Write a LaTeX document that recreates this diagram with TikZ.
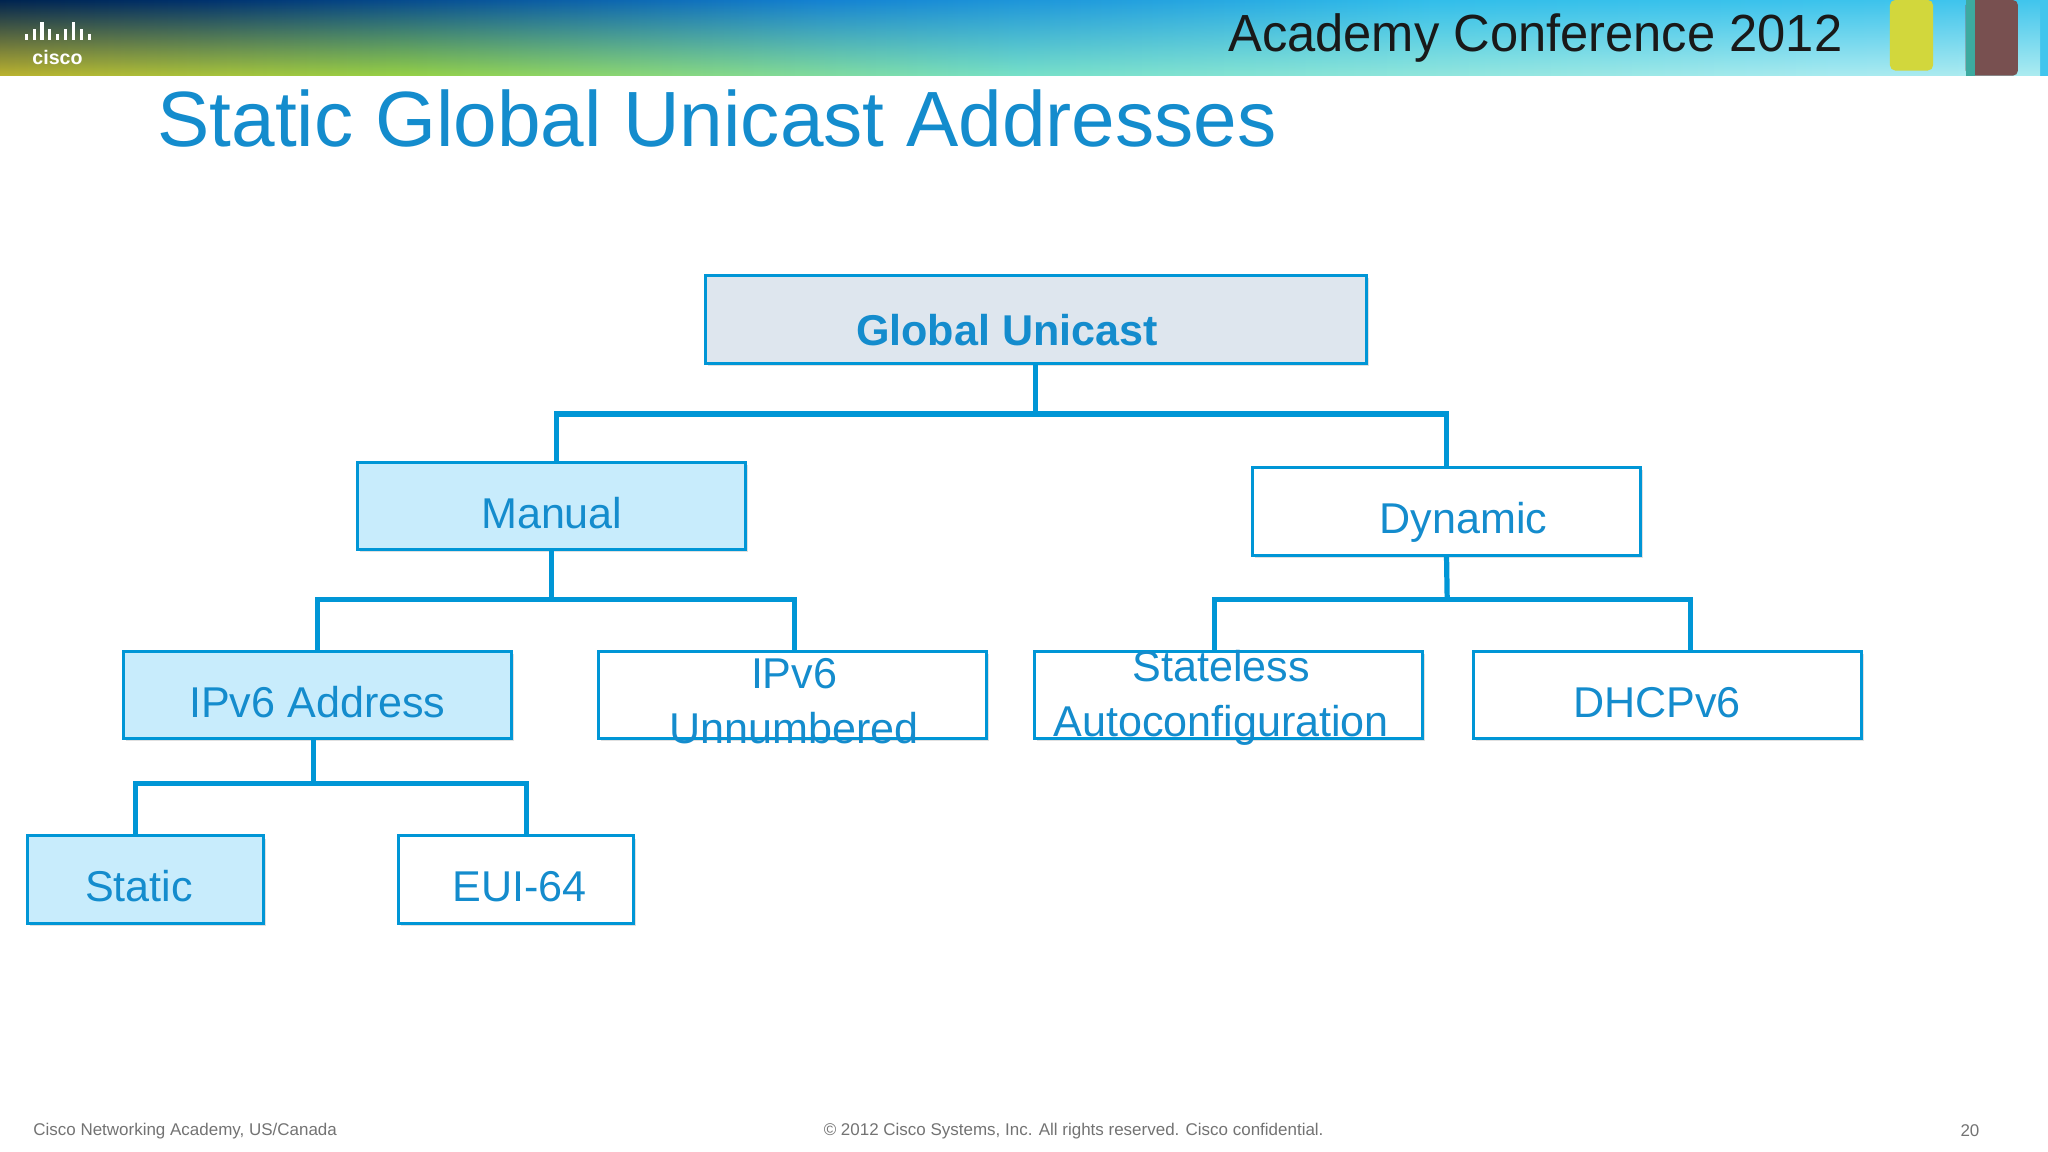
\documentclass[tikz,border=0pt]{standalone}
\usepackage{fontspec}
\setmainfont{Liberation Sans}
\usetikzlibrary{fadings,shadows}
\definecolor{cblue}{RGB}{0,150,214}
\definecolor{ctext}{RGB}{20,140,205}
\definecolor{lblue}{RGB}{200,236,252}
\definecolor{gfill}{RGB}{222,230,238}
\definecolor{ta}{RGB}{0,50,110}
\definecolor{tb}{RGB}{20,130,210}
\definecolor{tc}{RGB}{50,190,235}
\definecolor{td}{RGB}{90,210,240}
\definecolor{ba}{RGB}{210,40,10}
\definecolor{bb}{RGB}{230,100,20}
\definecolor{bc}{RGB}{200,170,40}
\definecolor{bd}{RGB}{150,210,70}
\definecolor{be}{RGB}{120,225,200}
\definecolor{bf}{RGB}{170,235,240}
\definecolor{bg}{RGB}{190,240,245}
\definecolor{yel}{RGB}{210,215,60}
\definecolor{dred}{RGB}{120,80,80}
\definecolor{teal2}{RGB}{60,170,160}
\pgfdeclarehorizontalshading{topband}{100bp}{color(0bp)=(black);color(12bp)=(black);color(30bp)=(ta);color(45bp)=(tb);color(60bp)=(tc);color(100bp)=(td)}
\pgfdeclarehorizontalshading{botband}{100bp}{color(0bp)=(ba);color(10bp)=(bb);color(22bp)=(bc);color(35bp)=(bd);color(50bp)=(be);color(70bp)=(bf);color(100bp)=(bg)}
\begin{document}
\begin{tikzpicture}[x=1pt,y=1pt,
  box/.style={draw=cblue,line width=2.2pt,minimum width=297pt,minimum height=67pt,inner sep=0pt,text height=34pt,text depth=0pt,text=ctext,font=\fontsize{33}{42}\selectfont,drop shadow={shadow xshift=2pt,shadow yshift=-2pt,opacity=0.3,fill=black!40}},
  lab/.style={align=center,text=ctext,font=\fontsize{33}{42}\selectfont},
  conn/.style={draw=cblue,line width=4pt}]
\useasboundingbox (0,0) rectangle (1568,882);
\fill[white] (0,0) rectangle (1568,882);
% header band
\shade[shading=topband] (0,824) rectangle (1568,882);
\shade[shading=botband,path fading=north] (0,824) rectangle (1568,882);
\node[white,font=\bfseries\fontsize{15}{15}\selectfont] (cisco) at (44,838) {cisco};
\foreach \i/\h in {0/5,1/9,2/14,3/9,4/5,5/9,6/14,7/9,8/5}{\fill[white] (19+\i*6,851) rectangle ++(2.4,\h);}
\node[anchor=east,font=\fontsize{40}{40}\selectfont,text=black!90,xscale=0.97] (conf) at (1414,853) {Academy Conference 2012};
\fill[rounded corners=4pt,fill=yel] (1447,828) rectangle (1480,882);
\fill[rounded corners=4pt,fill=dred] (1505,824) rectangle (1545,882);
\fill[fill=teal2] (1505,824) rectangle (1512,882);
% title
\node[anchor=west,text=ctext,font=\fontsize{60}{60}\selectfont] (title) at (117,791) {Static Global Unicast Addresses};
% nodes
\node[box,fill=gfill,minimum width=506pt,text height=40pt,font=\bfseries\fontsize{33}{42}\selectfont] (g) at (793,637.5) {\hspace*{-44pt}Global Unicast};
\node[box,fill=lblue] (m) at (422.5,494.5) {Manual};
\node[box,fill=white] (d) at (1107.5,490.5) {\hspace*{26pt}Dynamic};
\node[box,fill=lblue] (a) at (243,350) {IPv6 Address};
\node[box,fill=white] (u) at (606.5,350) {};
\node[lab] (ut) at (608,345) {IPv6\\Unnumbered};
\node[box,fill=white] (s) at (940.5,350) {};
\node[lab] (stx) at (935,348) {Stateless\\Autoconfiguration};
\node[box,fill=white] (h) at (1276.5,350) {\hspace*{-16pt}DHCPv6};
\node[box,fill=lblue,minimum width=181pt] (st) at (111.5,208.5) {\hspace*{-10pt}Static};
\node[box,fill=white,minimum width=180pt] (e) at (395,208.5) {\hspace*{6pt}EUI-64};
% connectors
\coordinate (j1) at (793,565);
\coordinate (j2) at (422.5,423);
\coordinate (j3) at (1108,423);
\coordinate (j4) at (240,282);
\draw[conn] (g.south) -- (j1);
\draw[conn] ([xshift=3.5pt]m.north) |- (j1) -| (d.north);
\draw[conn] (m.south) -- (j2);
\draw[conn] (a.north) |- (j2) -| ([xshift=1.5pt]u.north);
\draw[conn] (d.south) -- (j3);
\draw[conn] ([xshift=-10.5pt]s.north) |- (j3) -| ([xshift=17.5pt]h.north);
\draw[conn] ([xshift=-3pt]a.south) -- (j4);
\draw[conn] ([xshift=-7.5pt]st.north) |- (j4) -| ([xshift=8pt]e.north);
% footer
\node[anchor=west,text=black!55,font=\fontsize{13}{13}\selectfont] (f1) at (22,16) {Cisco Networking Academy, US/Canada};
\node[text=black!55,font=\fontsize{13}{13}\selectfont] (f2) at (822,16) {© 2012 Cisco Systems, Inc. All rights reserved. Cisco confidential.};
\node[anchor=east,text=black!55,font=\fontsize{13}{13}\selectfont] (f3) at (1519,16) {20};
\end{tikzpicture}
\end{document}
